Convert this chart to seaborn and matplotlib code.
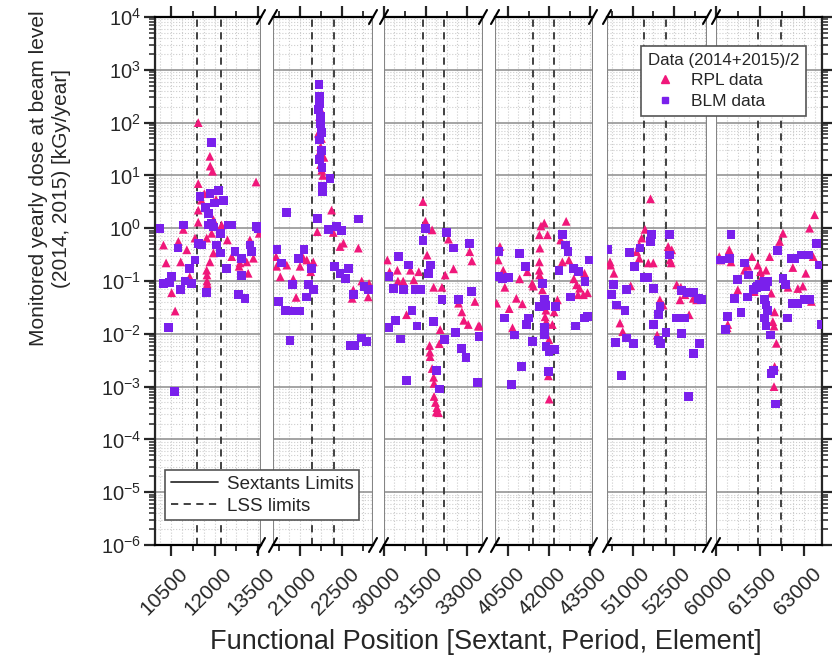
import numpy as np
import pandas as pd
import matplotlib
matplotlib.use("Agg")
import matplotlib.pyplot as plt
import matplotlib.transforms as mtransforms
import seaborn as sns
from matplotlib.lines import Line2D
from matplotlib.ticker import MultipleLocator, LogLocator, LogFormatterMathtext, NullFormatter

sns.set_style("ticks")
plt.rcParams["font.family"] = ["Liberation Sans", "DejaVu Sans"]
plt.rcParams["mathtext.default"] = "regular"

# ---- RPL dosimeter readings: functional position and yearly dose [kGy/year]
rpl_pos = [
    11440, 11840, 11850, 11930, 11440, 13420, 11650, 12050, 11550, 11960,
    10250, 10340, 10530, 10650, 10930, 10760, 11050, 10840, 11150, 11330,
    11440, 11440, 11730, 11730, 11740, 11740, 11750, 11840, 11960, 11900,
    11960, 12240, 12440, 12590, 12870, 12840, 13100, 13150, 13210, 13330, 13530,
    21690, 21770, 21650, 21730, 21850, 21730, 21770, 21810, 21700, 21720, 21760, 21700,
    20170, 20150, 20530, 20300, 20700, 20760, 20860, 21000, 21240, 21380,
    21120, 21470, 21610, 22120, 22180, 22420, 22540, 23070, 22890, 22850,
    23190, 23420, 23450,
    30120, 30200, 30480, 30500, 30690, 30950, 31070, 31250, 30810, 31400,
    31490, 31730, 31550, 31785, 32085, 32020, 31990, 31640, 31650, 31660,
    31730, 31785, 31800, 31800, 31850, 31900, 31960, 31880, 32200, 32320,
    32500, 32680, 32800, 32870, 33030, 33080, 33160, 33270, 33390, 33440,
    40080, 40200, 40140, 40320, 40380, 40540, 40660, 40800, 41020, 40920,
    41200, 41380, 41420, 41640, 41640, 41650, 41660, 41820, 41640, 41940,
    41750, 41880, 41850, 41890, 42115, 41990, 41970, 42000, 42300, 42180,
    42420, 42620, 42480, 42720, 42900, 43290, 43000, 43110, 43050, 43250,
    43400, 41700,
    50180, 50200, 50320, 50480, 50540, 50640, 50930, 51145, 51240, 51330,
    51650, 51570, 51750, 51240, 51990, 52110, 51890, 52290, 52420, 52360,
    52400, 52600, 52750, 52720, 52900, 53080, 53200, 53320, 53050, 51450,
    60110, 60170, 60450, 60510, 60400, 60380, 60740, 60965, 61080, 61220,
    61300, 61420, 61510, 61560, 61820, 61700, 61875, 61990, 61930, 61970,
    62050, 61990, 61970, 62160, 62275, 62445, 62610, 62780, 62950, 63050,
    63240, 63180, 63350, 63300,
]
rpl_dose = [
    100, 23, 15, 12, 7, 7.5, 4.5, 3.5, 3.4, 3.1,
    0.48, 0.22, 0.06, 0.027, 0.95, 0.56, 0.39, 0.23, 0.12, 0.65,
    2.2, 1.3, 0.65, 0.16, 0.13, 0.1, 0.088, 0.23, 0.34, 0.8,
    1.45, 1.15, 0.6, 0.29, 0.22, 0.19, 0.23, 0.14, 0.6, 0.27, 0.8,
    130, 78, 63, 35, 22, 16, 12.5, 10, 250, 180, 50, 28,
    0.19, 0.29, 0.2, 0.12, 0.028, 0.11, 0.049, 0.19, 0.25, 0.15,
    0.27, 0.23, 0.86, 2.2, 0.83, 0.45, 0.52, 0.42, 0.068, 0.047,
    0.1, 0.05, 0.09,
    0.25, 0.15, 0.16, 0.1, 0.1, 0.16, 0.105, 0.15, 0.023, 3.2,
    1.35, 0.93, 0.31, 0.076, 0.076, 0.012, 0.0065, 0.006, 0.0045, 0.0037,
    0.0022, 0.0015, 0.00115, 0.00065, 0.0005, 0.0004, 0.00032, 0.00033, 0.13, 0.62,
    0.17, 0.038, 0.026, 0.018, 0.015, 0.36, 0.24, 0.041, 0.014, 0.014,
    0.038, 0.45, 0.25, 0.16, 0.076, 0.03, 0.013, 0.047, 0.037, 0.11,
    0.15, 0.09, 0.08, 0.23, 0.16, 0.13, 0.42, 1.25, 0.75, 0.75,
    0.068, 0.028, 0.021, 0.017, 0.015, 0.0077, 0.0016, 0.00058, 0.044, 0.026,
    0.6, 1.35, 0.23, 0.25, 0.11, 0.14, 0.085, 0.073, 0.055, 0.055,
    0.06, 1.1,
    0.23, 0.2, 0.14, 0.035, 0.016, 0.011, 0.081, 0.36, 0.48, 0.65,
    3.6, 0.22, 0.22, 0.27, 0.044, 0.035, 0.0095, 0.45, 0.39, 0.25,
    0.22, 0.085, 0.076, 0.044, 0.055, 0.063, 0.047, 0.044, 0.023, 0.95,
    0.29, 0.25, 0.39, 0.23, 0.015, 0.013, 0.068, 0.16, 0.19, 0.29,
    0.063, 0.2, 0.15, 0.12, 0.29, 0.16, 0.059, 0.026, 0.017, 0.014,
    0.0066, 0.0024, 0.001, 0.56, 0.8, 0.076, 0.18, 0.072, 0.08, 0.14,
    0.041, 1.0, 1.8, 0.29,
]

# ---- BLM readings: functional position and yearly dose [kGy/year]
blm_pos = [
    11900, 12130, 11500, 11840, 12000, 11700, 12300,
    10130, 10250, 10450, 10530, 10420, 10620, 10820, 10930, 10750, 11140,
    10990, 11220, 11330, 11440, 11560, 11790, 11790, 11900, 11960, 11730,
    12070, 12190, 12470, 12590, 12420, 12700, 12930, 13210, 13270, 13440,
    13500, 12810, 13040, 12930, 12190,
    21670, 21690, 21690, 21650, 21730, 21690, 21770, 22060, 21810, 21810,
    21720, 21750, 21700, 21780,
    20170, 20350, 20230, 20470, 20760, 21000, 20645, 20530, 20740, 20940,
    21140, 21400, 21240, 21300, 21470, 21610, 22000, 22300, 22480, 22210,
    22420, 22600, 22710, 23070, 22890, 23270, 23420, 22775, 22950, 23190, 23370,
    30180, 30340, 30510, 30710, 30890, 31130, 31310, 31010, 30420, 30180,
    30600, 30800, 31190, 31490, 31400, 31670, 31610, 32085, 31785, 31880,
    32000, 32170, 32260, 32500, 32680, 32560, 32800, 32950, 33070, 33150,
    33440, 33360,
    40140, 40140, 40300, 40500, 40380, 40740, 40980, 40620, 40920, 41135,
    41180, 41250, 41400, 41760, 41640, 41820, 41880, 41820, 41840, 41880,
    41990, 42180, 41970, 42240, 42480, 42600, 42690, 42360, 42900, 43070,
    43310, 42780, 42960, 43290, 43400, 43460,
    50110, 50300, 50220, 50420, 50720, 50390, 50780, 51020, 50600, 50780,
    51080, 50900, 51270, 51690, 51650, 51410, 51530, 51750, 51990, 51950,
    51750, 52010, 51950, 52210, 52330, 52330, 52770, 52600, 52780, 53000,
    53200, 53380, 53500, 52900, 53420, 53200, 53020,
    60140, 60450, 60510, 60380, 60310, 60620, 60850, 60740, 60960, 61080,
    61100, 61280, 61420, 61480, 61380, 61650, 61760, 61700, 61650, 61700,
    61760, 61640, 61700, 61850, 61865, 61960, 62010, 62100, 62275, 62350,
    62420, 62560, 62670, 62900, 63130, 62610, 62780, 63010, 63180, 63410,
    63520, 63580,
]
blm_dose = [
    42, 5.2, 4, 4.5, 3.0, 2.5, 3.4,
    1.0, 0.09, 0.093, 0.12, 0.013, 0.0008, 0.068, 1.15, 0.42, 0.17,
    0.1, 0.09, 0.25, 0.52, 0.48, 1.9, 1.15, 1.25, 1.05, 0.06,
    0.48, 0.34, 1.15, 1.15, 0.17, 0.36, 0.125, 0.48, 0.36, 1.07,
    1.0, 0.055, 0.047, 0.27, 0.8,
    530, 310, 230, 175, 95, 47, 30, 8.8, 6.2, 4.9,
    130, 65, 20, 14,
    0.39, 0.22, 0.041, 0.028, 0.027, 0.027, 0.0074, 2.0, 0.085, 0.27,
    0.39, 0.17, 0.05, 0.085, 0.068, 1.55, 0.93, 1.07, 0.9, 0.19,
    0.14, 0.11, 0.17, 1.5, 0.055, 0.079, 0.068, 0.006, 0.006, 0.0083, 0.0071,
    0.12, 0.073, 0.29, 0.068, 0.2, 0.068, 0.068, 0.028, 0.018, 0.013,
    0.008, 0.0013, 0.014, 1.0, 0.58, 0.2, 0.14, 0.045, 0.017, 0.002,
    0.0009, 0.0079, 0.84, 0.42, 0.044, 0.0105, 0.0053, 0.0035, 0.52, 0.063,
    0.009, 0.0012,
    0.36, 0.12, 0.11, 0.118, 0.02, 0.0095, 0.0024, 0.0011, 0.33, 0.19,
    0.015, 0.02, 0.0071, 0.09, 0.033, 0.044, 0.034, 0.013, 0.0095, 0.0057,
    0.0046, 0.005, 0.0019, 0.033, 0.75, 0.48, 0.36, 0.16, 0.17, 0.15,
    0.098, 0.05, 0.014, 0.02, 0.021, 0.25,
    0.39, 0.085, 0.055, 0.035, 0.028, 0.0068, 0.0083, 0.0066, 0.0016, 0.068,
    0.19, 0.35, 0.42, 0.75, 0.56, 0.118, 0.115, 0.073, 0.033, 0.023,
    0.015, 0.0066, 0.0075, 0.0105, 0.75, 0.31, 0.066, 0.02, 0.01, 0.06,
    0.06, 0.047, 0.045, 0.02, 0.0065, 0.0042, 0.00066,
    0.25, 0.27, 0.75, 0.021, 0.012, 0.047, 0.025, 0.105, 0.22, 0.05,
    0.13, 0.068, 0.08, 0.085, 0.075, 0.1, 0.097, 0.08, 0.044, 0.035,
    0.028, 0.02, 0.014, 0.0095, 0.0018, 0.002, 0.00047, 0.38, 0.11, 0.085,
    0.02, 0.27, 0.27, 0.31, 0.31, 0.037, 0.037, 0.045, 0.045, 0.52,
    0.2, 0.015,
]

# ---- sextant extents (one axis panel each) and long-straight-section limits
sextant_ranges = [(9960, 13590), (20040, 23590), (30000, 33560),
                  (40020, 43600), (50070, 53700), (60000, 63600)]
lss_limits = [11410, 12220, 21440, 22210, 31410, 32170,
              41400, 42190, 51410, 52210, 61420, 62220]

series_names = ["RPL data", "BLM data"]
palette = {"RPL data": "#F0177A", "BLM data": "#7A20EC"}
marker_map = {"RPL data": "^", "BLM data": "s"}

df = pd.DataFrame({
    "pos": rpl_pos + blm_pos,
    "dose": rpl_dose + blm_dose,
    "source": ["RPL data"] * len(rpl_pos) + ["BLM data"] * len(blm_pos),
})

W, H = 832, 657
fig = plt.figure(figsize=(W / 100, H / 100), dpi=100)
top_px, bot_px = 17, 545
panel_px = [(155, 261), (273, 373), (384, 483), (495, 593), (607, 707), (716, 822)]

grid_major = "#8c8c8c"
grid_minor = "#cdcdcd"
label_shift = mtransforms.ScaledTranslation(7 / 100, -5 / 100, fig.dpi_scale_trans)
axes = []
n = len(panel_px)
for i, ((l, r), (x0, x1)) in enumerate(zip(panel_px, sextant_ranges)):
    ax = fig.add_axes([l / W, 1 - bot_px / H, (r - l) / W, (bot_px - top_px) / H])
    ax.set_yscale("log")
    sub = df[(df["pos"] >= x0) & (df["pos"] <= x1)]
    sns.scatterplot(data=sub, x="pos", y="dose", hue="source", style="source",
                    hue_order=series_names, style_order=series_names,
                    palette=palette, markers=marker_map, s=40,
                    edgecolor="none", linewidth=0, legend=False, ax=ax, zorder=4)
    ax.set_xlim(x0, x1)
    ax.set_ylim(1e-6, 1e4)
    ax.set_xlabel("")
    ax.set_ylabel("")

    # grids
    ax.yaxis.set_major_locator(LogLocator(base=10, numticks=20))
    ax.yaxis.set_minor_locator(LogLocator(base=10, subs=np.arange(2, 10), numticks=20))
    ax.grid(which="major", axis="y", color=grid_major, lw=1.1, zorder=0)
    ax.grid(which="minor", axis="y", color=grid_minor, lw=0.8, ls=":", zorder=0)
    for v in np.arange(np.ceil(x0 / 375) * 375, x1, 375):
        ax.axvline(v, color=grid_minor, lw=0.8, ls=":", zorder=0)

    # sextant limits and LSS limits
    ax.axvline(x0, color="#858585", lw=1.5, zorder=1)
    ax.axvline(x1, color="#858585", lw=1.5, zorder=1)
    for v in lss_limits:
        if x0 < v < x1:
            ax.axvline(v, color="#333333", lw=1.3, ls=(0, (4, 3)), zorder=2)

    # x ticks
    ax.xaxis.set_major_locator(MultipleLocator(1500))
    ax.xaxis.set_minor_locator(MultipleLocator(750))
    ax.tick_params(axis="x", which="major", direction="out", length=8, width=1.6,
                   top=True, bottom=True, labeltop=False, labelsize=15, pad=2)
    ax.tick_params(axis="x", which="minor", direction="out", length=4, width=1.3,
                   top=True, bottom=True)
    for lab in ax.get_xticklabels():
        lab.set_rotation(45)
        lab.set_ha("right")
        lab.set_rotation_mode("anchor")
        lab.set_transform(lab.get_transform() + label_shift)

    for sp in ("top", "bottom"):
        ax.spines[sp].set_linewidth(1.6)
        ax.spines[sp].set_color("black")
    ax.spines["left"].set_visible(i == 0)
    ax.spines["right"].set_visible(i == n - 1)
    ax.spines["left"].set_linewidth(1.6)
    ax.spines["right"].set_linewidth(1.6)

    if i == 0:
        ax.yaxis.set_major_formatter(LogFormatterMathtext())
        ax.yaxis.set_minor_formatter(NullFormatter())
        ax.tick_params(axis="y", which="major", direction="out", length=8, width=1.6,
                       left=True, right=False, labelleft=True, labelsize=14.5, pad=2)
        ax.tick_params(axis="y", which="minor", direction="out", length=4, width=1.1,
                       left=True, right=False)
    elif i == n - 1:
        ax.tick_params(axis="y", which="major", direction="out", length=8, width=1.6,
                       left=False, right=True, labelleft=False, labelright=False)
        ax.tick_params(axis="y", which="minor", direction="out", length=4, width=1.1,
                       left=False, right=True)
    else:
        ax.tick_params(axis="y", which="both", left=False, right=False,
                       labelleft=False, labelright=False)
    axes.append(ax)

# break markers on the top and bottom frame between panels
def slash(xp, yp):
    fig.add_artist(Line2D([(xp - 4) / W, (xp + 4) / W],
                          [1 - (yp + 7) / H, 1 - (yp - 7) / H],
                          transform=fig.transFigure, color="black", lw=1.5))

for i in range(n - 1):
    for yp in (top_px, bot_px):
        slash(panel_px[i][1], yp)
        slash(panel_px[i + 1][0], yp)

# legends
data_handles = [
    Line2D([], [], ls="", marker="^", color=palette["RPL data"], markersize=6),
    Line2D([], [], ls="", marker="s", color=palette["BLM data"], markersize=5),
]
leg1 = fig.legend(data_handles, series_names, title="Data (2014+2015)/2",
                  loc="upper left", bbox_to_anchor=(641 / W, 1 - 46 / H),
                  fontsize=12.5, title_fontsize=12.2, frameon=True, fancybox=False,
                  edgecolor="#555555", framealpha=1, borderaxespad=0,
                  handletextpad=0.5, borderpad=0.4, labelspacing=0.3,
                  alignment="left")
leg1.get_frame().set_linewidth(1.2)

limit_handles = [
    Line2D([], [], color="#333333", lw=1.3),
    Line2D([], [], color="#333333", lw=1.3, ls=(0, (4, 3))),
]
leg2 = fig.legend(limit_handles, ["Sextants Limits", "LSS limits"],
                  loc="upper left", bbox_to_anchor=(165 / W, 1 - 470 / H),
                  fontsize=13.5, frameon=True, fancybox=False, edgecolor="#555555",
                  framealpha=1, borderaxespad=0, handlelength=2.5,
                  borderpad=0.3, labelspacing=0.25, handletextpad=0.5)
leg2.get_frame().set_linewidth(1.2)

fig.text(50 / W, 1 - 178 / H,
         "Monitored yearly dose at beam level\n(2014, 2015) [kGy/year]",
         rotation=90, ha="center", va="center", fontsize=15, linespacing=1.3,
         multialignment="center")
fig.text(486 / W, 1 - 642 / H, "Functional Position [Sextant, Period, Element]",
         ha="center", va="center", fontsize=19.5)

fig.savefig("out.png", dpi=100)
